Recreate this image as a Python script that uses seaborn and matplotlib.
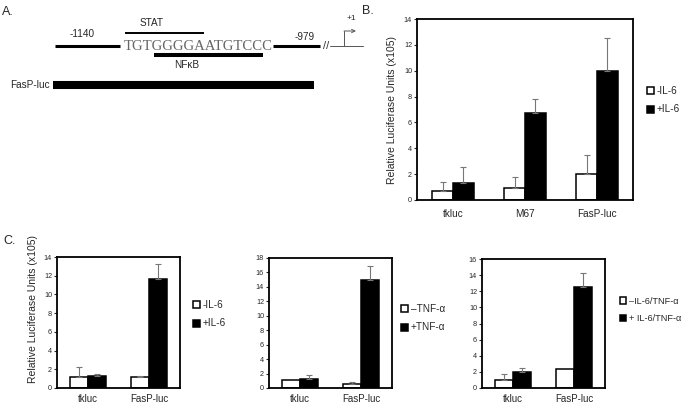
import numpy as np
import pandas as pd
import matplotlib
matplotlib.use("Agg")
import matplotlib.pyplot as plt
import seaborn as sns

sns.set_style("white")
plt.rcParams['font.family'] = ['Liberation Sans', 'DejaVu Sans']

# ---- data ----
# panel B
b_constructs = ["tkluc", "M67", "FasP-luc"]
b_minus = [0.7, 0.9, 2.0]
b_plus = [1.35, 6.7, 10.0]
b_minus_sd = [0.7, 0.85, 1.45]
b_plus_sd = [1.2, 1.15, 2.5]

# panel C
c_constructs = ["tkluc", "FasP-luc"]
c1_minus = [1.2, 1.2]
c1_plus = [1.3, 11.7]
c1_minus_sd = [1.0, 0.1]
c1_plus_sd = [0.2, 1.6]

c2_minus = [1.1, 0.5]
c2_plus = [1.2, 15.0]
c2_minus_sd = [0.0, 0.4]
c2_plus_sd = [0.6, 1.9]

c3_minus = [1.0, 2.4]
c3_plus = [1.95, 12.5]
c3_minus_sd = [0.7, 0.0]
c3_plus_sd = [0.5, 1.8]

W, H = 683, 404
fig = plt.figure(figsize=(W / 100, H / 100), dpi=100)


def px_axes(left, top, right, bottom):
    return fig.add_axes([left / W, 1 - bottom / H, (right - left) / W, (bottom - top) / H])


def bar_panel(ax, cats, minus, plus, msd, psd, labels, ymax, leg_xy,
              leg_fs=7.2, xpad=3, xfs=7.2):
    df = pd.DataFrame({
        "construct": cats * 2,
        "cond": [labels[0]] * len(cats) + [labels[1]] * len(cats),
        "value": minus + plus,
    })
    sns.barplot(data=df, x="construct", y="value", hue="cond", order=cats,
                hue_order=labels, palette=["white", "black"], edgecolor="black",
                linewidth=1.1, width=0.58, errorbar=None, legend=False, ax=ax)
    for cont, sds in zip(ax.containers, [msd, psd]):
        for bar, sd in zip(cont, sds):
            if sd <= 0:
                continue
            ax.errorbar(bar.get_x() + bar.get_width() / 2, bar.get_height(),
                        yerr=[[0], [sd]], fmt="none", ecolor="#777777",
                        elinewidth=0.8, capsize=2, capthick=0.8)
    ax.set_xlim(-0.5, len(cats) - 0.5)
    ax.set_ylim(0, ymax)
    ax.set_yticks(np.arange(0, ymax + 1, 2))
    ax.set_xlabel("")
    ax.set_ylabel("")
    for s in ax.spines.values():
        s.set_visible(True)
        s.set_linewidth(1.3)
        s.set_color("black")
    ax.tick_params(axis="y", left=True, length=2.5, width=0.8, labelsize=5.2, pad=1)
    ax.tick_params(axis="x", bottom=False, labelsize=xfs, pad=xpad)
    handles = [ax.containers[0][0], ax.containers[1][0]]
    fig.legend(handles, labels, loc="center left",
               bbox_to_anchor=(leg_xy[0] / W, 1 - leg_xy[1] / H),
               frameon=False, fontsize=leg_fs, handlelength=0.7, handleheight=0.7,
               handletextpad=0.3, labelspacing=0.9, borderaxespad=0)


# ---- panel A: promoter diagram (pixel coordinates) ----
axA = px_axes(0, 0, 370, 115)
axA.set_xlim(0, 370)
axA.set_ylim(115, 0)
axA.axis("off")
axA.plot([55, 120], [46, 46], color="black", lw=2.2, solid_capstyle="butt")
axA.plot([273, 320], [46, 46], color="black", lw=2.2, solid_capstyle="butt")
axA.plot([125, 204], [33, 33], color="black", lw=1.4, solid_capstyle="butt")
axA.plot([154, 263], [55, 55], color="black", lw=2.9, solid_capstyle="butt")
axA.plot([53, 314], [85, 85], color="black", lw=5.8, solid_capstyle="butt")
axA.plot([330, 363], [46, 46], color="#555555", lw=0.7)
axA.plot([344, 344], [46, 31], color="#555555", lw=0.7)
axA.annotate("", xy=(356, 31), xytext=(344, 31),
             arrowprops=dict(arrowstyle="->", color="#555555", lw=0.7,
                             shrinkA=0, shrinkB=0, mutation_scale=6))
axA.text(2, 12, "A.", fontsize=9, va="center", ha="left")
axA.text(82, 34, "-1140", fontsize=7.2, ha="center", va="center")
axA.text(152, 23, "STAT", fontsize=7.2, ha="center", va="center")
axA.text(124, 46, "TGTGGGGAATGTCCC", fontsize=10.6, ha="left", va="center",
         family="Liberation Serif", color="#666666")
axA.text(187, 65, "NFκB", fontsize=7.2, ha="center", va="center")
axA.text(305, 37, "-979", fontsize=7.2, ha="center", va="center")
axA.text(326, 46, "//", fontsize=8, ha="center", va="center", color="#333333")
axA.text(351, 19, "+1", fontsize=6, ha="center", va="center")
axA.text(50, 85, "FasP-luc", fontsize=7.2, ha="right", va="center")

# ---- panel B ----
axB = px_axes(417, 19, 633, 200)
bar_panel(axB, b_constructs, b_minus, b_plus, b_minus_sd, b_plus_sd,
          ["-IL-6", "+IL-6"], 14, (643, 100))
fig.text(362 / W, 1 - 11 / H, "B.", fontsize=9, va="center", ha="left")
fig.text(392 / W, 1 - 110 / H, "Relative Luciferase Units (x105)", fontsize=7.5,
         rotation=90, ha="center", va="center")

# ---- panel C ----
axC1 = px_axes(57, 257, 180, 388)
bar_panel(axC1, c_constructs, c1_minus, c1_plus, c1_minus_sd, c1_plus_sd,
          ["-IL-6", "+IL-6"], 14, (189, 314), xpad=0.5, xfs=7)
fig.text(3 / W, 1 - 241 / H, "C.", fontsize=9, va="center", ha="left")
fig.text(33 / W, 1 - 309 / H, "Relative Luciferase Units (x105)", fontsize=7.5,
         rotation=90, ha="center", va="center")

axC2 = px_axes(269, 258, 392, 388)
bar_panel(axC2, c_constructs, c2_minus, c2_plus, c2_minus_sd, c2_plus_sd,
          ["\u2013TNF-α", "+TNF-α"], 18, (397, 318), xpad=0.5, xfs=7)

axC3 = px_axes(482, 259, 605, 388)
bar_panel(axC3, c_constructs, c3_minus, c3_plus, c3_minus_sd, c3_plus_sd,
          ["\u2013IL-6/TNF-α", "+ IL-6/TNF-α"], 16, (616, 310),
          leg_fs=6.6, xpad=0.5, xfs=7)

fig.savefig("out.png", dpi=100)
